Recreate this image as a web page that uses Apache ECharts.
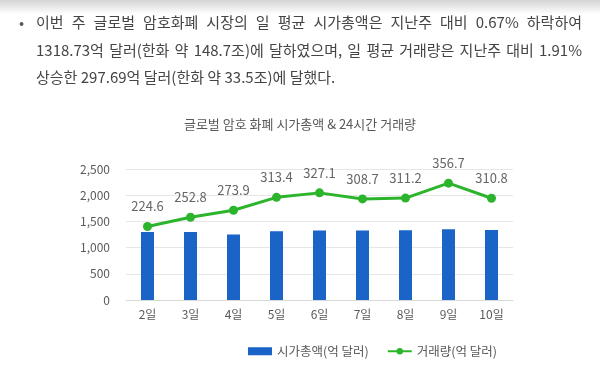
<!DOCTYPE html>
<html>
<head>
<meta charset="utf-8">
<script src="https://cdn.jsdelivr.net/npm/echarts@6/dist/echarts.min.js"></script>
<style>
  html, body { margin: 0; padding: 0; width: 600px; height: 372px; overflow: hidden; background: #fff; }
  #shade { position: absolute; left: 0; top: 0; width: 600px; height: 14px; background: linear-gradient(#d4d4d4, rgba(255,255,255,0)); z-index: 2; }
  #note { position: absolute; left: 36px; top: 8px; width: 546px; font-family: "Noto Sans CJK KR", sans-serif; font-size: 15px; line-height: 27.5px; color: #454545; z-index: 3; }
  #note .j { text-align: justify; text-align-last: justify; white-space: nowrap; }
  #bullet { position: absolute; left: 19px; top: 8px; font-family: "Noto Sans CJK KR", sans-serif; font-size: 15px; line-height: 27.5px; color: #555; z-index: 3; }
  #chart { position: absolute; left: 0; top: 0; width: 600px; height: 372px; }
</style>
</head>
<body>
<div id="shade"></div>
<div id="bullet">•</div>
<div id="note">
  <div class="j">이번 주 글로벌 암호화폐 시장의 일 평균 시가총액은 지난주 대비 0.67% 하락하여</div>
  <div class="j">1318.73억 달러(한화 약 148.7조)에 달하였으며, 일 평균 거래량은 지난주 대비 1.91%</div>
  <div>상승한 297.69억 달러(한화 약 33.5조)에 달했다.</div>
</div>
<div id="chart"></div>
<script>
const titleText = '글로벌 암호 화폐 시가총액 & 24시간 거래량';
const categories = ['2일', '3일', '4일', '5일', '6일', '7일', '8일', '9일', '10일'];
const marketCap = [1300, 1300, 1250, 1310, 1325, 1328, 1332, 1350, 1338];
const volume = [224.6, 252.8, 273.9, 313.4, 327.1, 308.7, 311.2, 356.7, 310.8];
const capName = '시가총액(억 달러)';
const volName = '거래량(억 달러)';

const font = '"Noto Sans CJK KR", sans-serif';
const chart = echarts.init(document.getElementById('chart'));
chart.setOption({
  animation: false,
  title: {
    text: titleText, left: 'center', top: 113,
    textStyle: { fontFamily: font, fontSize: 13, fontWeight: 'normal', color: '#595959' }
  },
  legend: {
    top: 340, left: 243, itemWidth: 24, itemHeight: 8, itemGap: 18,
    textStyle: { fontFamily: font, fontSize: 12.5, color: '#595959' },
    data: [{ name: capName, icon: 'rect' }, { name: volName }]
  },
  grid: { left: 126, right: 87, top: 169, bottom: 72 },
  xAxis: {
    type: 'category', data: categories,
    axisLine: { lineStyle: { color: '#d9d9d9' } },
    axisTick: { show: false },
    axisLabel: { fontFamily: font, fontSize: 12, color: '#595959', margin: 8 }
  },
  yAxis: [{
    type: 'value', min: 0, max: 2500, interval: 500,
    axisLine: { show: false }, axisTick: { show: false },
    splitLine: { lineStyle: { color: '#e6e6e6' } },
    axisLabel: { fontFamily: font, fontSize: 12, color: '#595959', margin: 16,
      formatter: v => v.toLocaleString('en-US') }
  }, {
    type: 'value', min: 0, max: 400, show: false, splitLine: { show: false }
  }],
  series: [{
    name: capName, type: 'bar', data: marketCap, barWidth: 13,
    itemStyle: { color: '#1a63c7' }
  }, {
    name: volName, type: 'line', yAxisIndex: 1, data: volume,
    symbol: 'circle', symbolSize: 9,
    lineStyle: { color: '#2cb52c', width: 3 },
    itemStyle: { color: '#2cb52c' },
    label: { show: true, position: 'top', distance: 9, fontFamily: font, fontSize: 13, color: '#666' }
  }]
});
</script>
</body>
</html>
